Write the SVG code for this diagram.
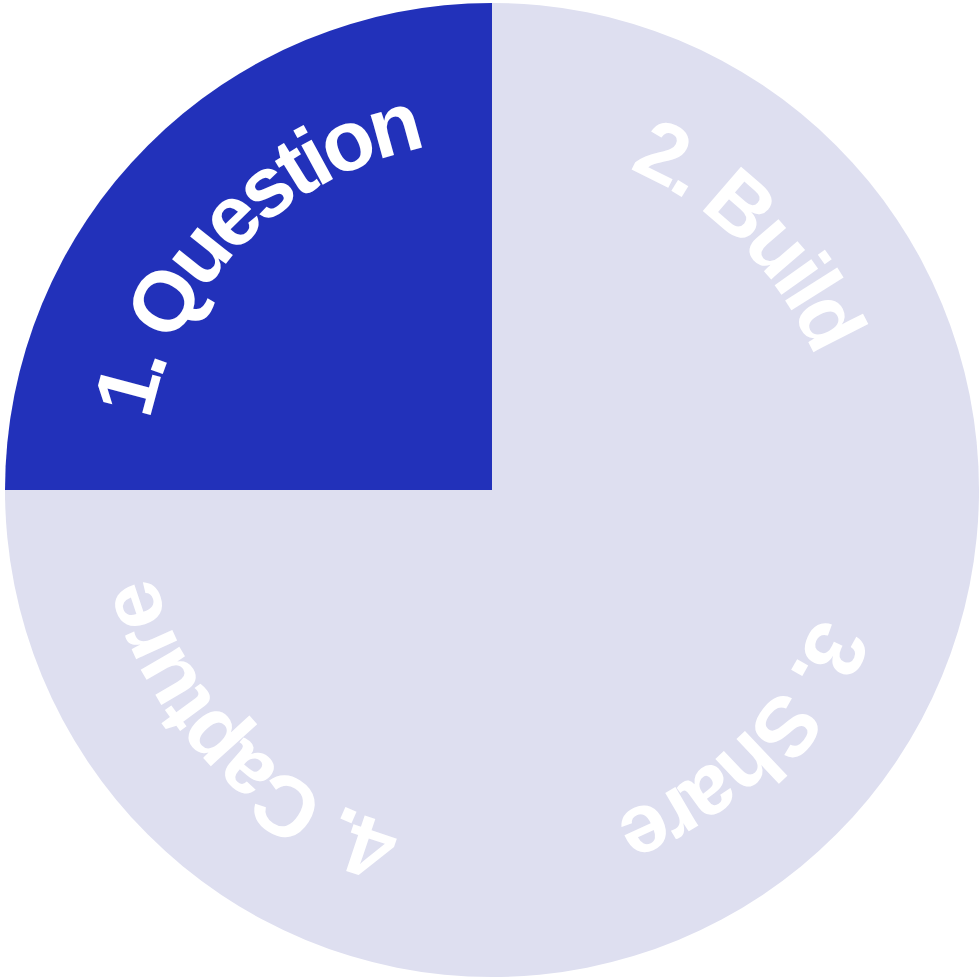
<svg xmlns="http://www.w3.org/2000/svg" xmlns:xlink="http://www.w3.org/1999/xlink" width="980" height="980" viewBox="0 0 980 980">
  <style>
    .dark { fill: #2231BA; }
    .light { fill: #DEDFF0; }
    .lbl { font-family: "Liberation Sans", Arial, sans-serif; font-weight: bold; font-size: 85px; fill: #FFFFFF; letter-spacing: -5px; }
  </style>
  <defs>
    <path id="arc1" d="M143,490 A349,349 0 0 1 492,141"/>
    <path id="arc2" d="M492,141 A349,349 0 0 1 841,490"/>
    <path id="arc3" d="M841,490 A349,349 0 0 1 492,839"/>
    <path id="arc4" d="M492,839 A349,349 0 0 1 143,490"/>
  </defs>
  <rect width="980" height="980" fill="#FFFFFF"/>
  <g id="question">
    <path class="dark" d="M492,490 L5,490 A487,487 0 0 1 492,3 Z"/>
    <text class="lbl" text-anchor="middle"><textPath xlink:href="#arc1" href="#arc1" startOffset="50%">1. Question</textPath></text>
  </g>
  <g id="build">
    <path class="light" d="M492,490 L492,3 A487,487 0 0 1 979,490 Z"/>
    <text class="lbl" text-anchor="middle"><textPath xlink:href="#arc2" href="#arc2" startOffset="50%">2. Build</textPath></text>
  </g>
  <g id="share">
    <path class="light" d="M492,490 L979,490 A487,487 0 0 1 492,977 Z"/>
    <text class="lbl" text-anchor="middle"><textPath xlink:href="#arc3" href="#arc3" startOffset="50%">3. Share</textPath></text>
  </g>
  <g id="capture">
    <path class="light" d="M492,490 L492,977 A487,487 0 0 1 5,490 Z"/>
    <text class="lbl" text-anchor="middle"><textPath xlink:href="#arc4" href="#arc4" startOffset="50%">4. Capture</textPath></text>
  </g>
  <g id="connectors"></g>
</svg>
